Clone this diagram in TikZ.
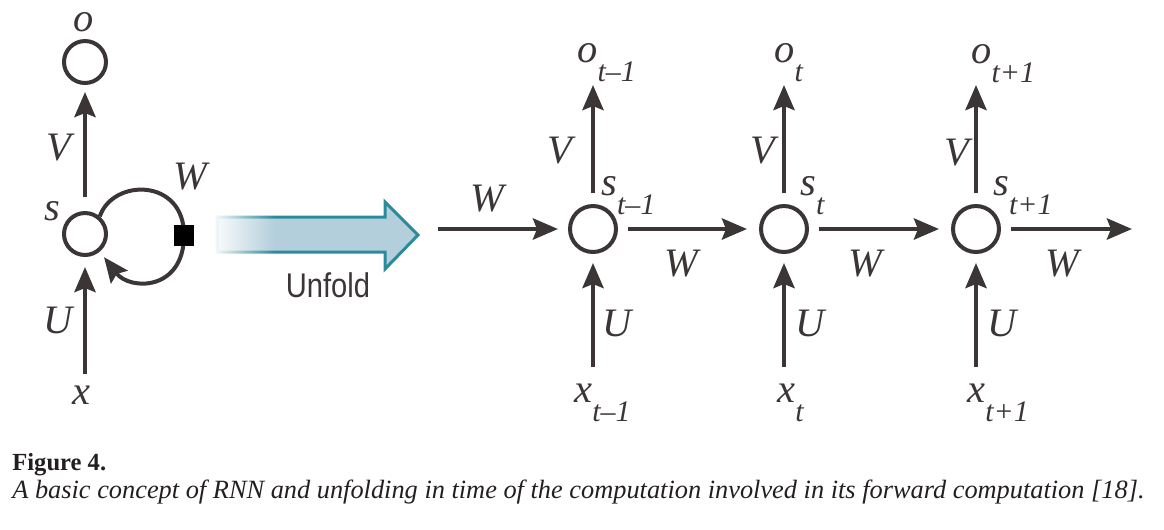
\documentclass[tikz,border=0pt]{standalone}
\usepackage{fontspec}
\setmainfont{Liberation Serif}
\newfontfamily\unfoldfont{Liberation Sans}
\usetikzlibrary{arrows.meta,fadings}
\newlength\pxu \setlength\pxu{0.02cm}
\definecolor{ink}{HTML}{3B3536}
\definecolor{capink}{HTML}{231F20}
\definecolor{afill}{HTML}{B3CFDB}
\definecolor{astroke}{HTML}{2B8A9B}
\tikzfading[name=fadeR, left color=transparent!0, right color=transparent!100]
\newcommand\lab{\fontsize{23}{23}\selectfont\itshape}
\newcommand\sublab{\fontsize{17}{17}\selectfont\itshape}
\newcommand\sv[2]{{\lab #1}\raisebox{-19\pxu}{\sublab #2}}
\begin{document}
\begin{tikzpicture}[x=0.02cm,y=-0.02cm,
  state/.style={circle, draw=ink, line width=0.08cm, minimum size=0.92cm, inner sep=0},
  lstate/.style={circle, draw=ink, line width=0.08cm, minimum size=0.84cm, inner sep=0},
  arr/.style={draw=ink, line width=0.09cm, -{Stealth[length=0.5cm,width=0.42cm,inset=0.08cm]}},
  loopline/.style={draw=ink, line width=0.08cm, -{Stealth[length=0.5cm,width=0.42cm,inset=0.08cm]}},
  lbl/.style={inner sep=0, text=ink, font=\lab},
  sqbox/.style={fill=black, minimum size=0.42cm, inner sep=0}]
\useasboundingbox (0,0) rectangle (1164,529);

% ---------- folded RNN ----------
\node[lstate] (s) at (85,234) {};
\node[lstate] (o) at (85,62) {};
\coordinate (sqc) at (184,235);
\coordinate (xb) at (85,374);
\draw[arr] ([yshift=0.28cm]s.north) -- ([yshift=-0.14cm]o.south);
\draw[arr] (xb) -- ([yshift=-0.2cm]s.south);
\draw[loopline, shorten >=0.14cm] (s.50) .. controls (113,178) and (184,178) .. (sqc)
   .. controls (184,291) and (130,291) .. (s.-50);
\node[sqbox] (sq) at (sqc) {};
\node[lbl] (lo) at (84,22) {o};
\node[lbl] (lV) at (59,148) {V};
\node[lbl] (ls) at (52,211) {s};
\node[lbl] (lW) at (190,177) {W};
\node[lbl] (lU) at (58,320) {U};
\node[lbl] (lx) at (81,395) {x};

% ---------- Unfold arrow ----------
\begin{scope}
\clip (217,217) -- (385,217) -- (385,202) -- (418,235) -- (385,269) -- (385,252) -- (217,252) -- cycle;
\fill[afill] (210,195) rectangle (425,275);
\end{scope}
\draw[astroke, line width=0.06cm, line join=miter] (217,217) -- (385,217) -- (385,202) -- (418,235) -- (385,269) -- (385,252) -- (217,252) -- cycle;
\fill[white, path fading=fadeR] (212,197) rectangle (275,259);
\node[inner sep=0, anchor=base, text=ink] (unf) at (328,297) {\unfoldfont\fontsize{19.5}{19.5}\selectfont\scalebox{0.85}[1]{Unfold}};

% ---------- unfolded RNN ----------
\node[state] (s1) at (593,229) {};
\node[state] (s2) at (784,229) {};
\node[state] (s3) at (976,229) {};
\coordinate (win) at (438,229);
\coordinate (wout) at (1132,229);
\coordinate (vt1) at (593,85);
\coordinate (vt2) at (784,85);
\coordinate (vt3) at (976,85);
\coordinate (ub1) at (593,367);
\coordinate (ub2) at (784,367);
\coordinate (ub3) at (976,367);

\draw[arr, shorten >=0.2cm] (win) -- (s1.west);
\draw[arr, shorten <=0.2cm, shorten >=0.24cm] (s1.east) -- (s2.west);
\draw[arr, shorten <=0.2cm, shorten >=0.24cm] (s2.east) -- (s3.west);
\draw[arr, shorten <=0.2cm] (s3.east) -- (wout);
\foreach \i in {1,2,3}{
  \draw[arr] ([yshift=0.22cm]s\i.north) -- (vt\i);
  \draw[arr, shorten >=0.18cm] (ub\i) -- (s\i.south);
}

\node[lbl] (V1) at (560,151) {V};
\node[lbl] (V2) at (763,151) {V};
\node[lbl] (V3) at (957,153) {V};
\node[lbl] (W0) at (487,199) {W};
\node[lbl] (W1) at (681,264) {W};
\node[lbl] (W2) at (865,264) {W};
\node[lbl] (W3) at (1062,264) {W};
\node[lbl] (U1) at (617,323) {U};
\node[lbl] (U2) at (810,323) {U};
\node[lbl] (U3) at (1002,323) {U};

\node[lbl, anchor=base west] (o1) at (577,62) {\sv{o}{t–1}};
\node[lbl, anchor=base west] (o2) at (774,62) {\sv{o}{t}};
\node[lbl, anchor=base west] (o3) at (971,63) {\sv{o}{t+1}};
\node[lbl, anchor=base west] (st1) at (601,195) {\sv{s}{t–1}};
\node[lbl, anchor=base west] (st2) at (800,195) {\sv{s}{t}};
\node[lbl, anchor=base west] (st3) at (993,195) {\sv{s}{t+1}};
\node[lbl, anchor=base west] (x1) at (574,402) {\sv{x}{t–1}};
\node[lbl, anchor=base west] (x2) at (777,402) {\sv{x}{t}};
\node[lbl, anchor=base west] (x3) at (967,402) {\sv{x}{t+1}};

% ---------- caption ----------
\node[anchor=base west, inner sep=0, text=capink, font=\fontsize{14}{14}\selectfont\bfseries] (fig) at (12,470) {Figure 4.};
\node[anchor=base west, inner sep=0, text=capink, font=\fontsize{15}{15}\selectfont\itshape] (cap) at (12,498) {A basic concept of RNN and unfolding in time of the computation involved in its forward computation [18].};
\end{tikzpicture}
\end{document}
